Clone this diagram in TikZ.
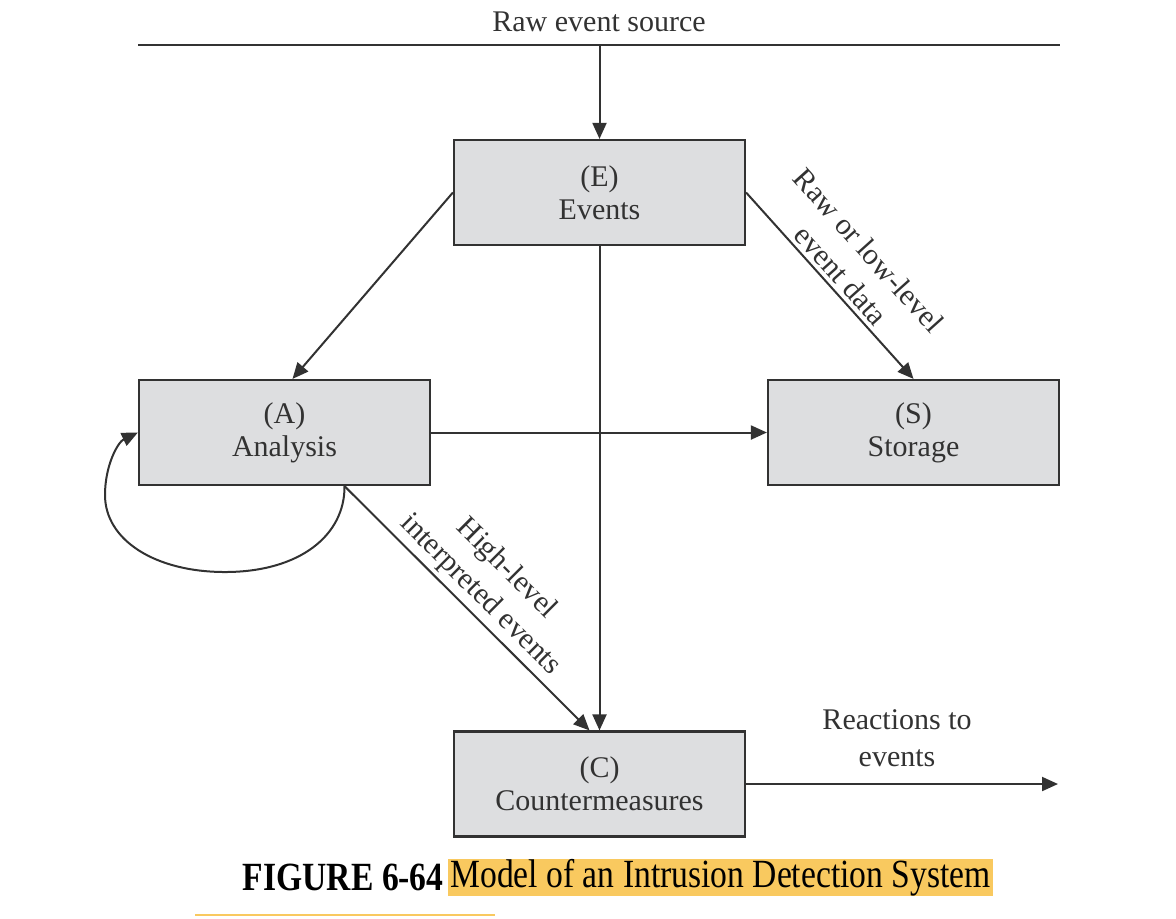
\documentclass[tikz,border=0pt]{standalone}
\usepackage{fontspec}
\setmainfont{Liberation Serif}
\newfontfamily\capfont[FakeStretch=0.84]{Liberation Serif}
\usetikzlibrary{arrows.meta,positioning}
\definecolor{boxfill}{RGB}{221,222,224}
\definecolor{inkgray}{RGB}{50,50,50}
\definecolor{marker}{RGB}{249,201,95}

\begin{document}
\begin{tikzpicture}[x=0.5pt,y=-0.5pt,
		every node/.style={text=inkgray,font=\fontsize{15}{16.5}\selectfont,align=center},
		block/.style={draw=inkgray,line width=1.1pt,fill=boxfill,minimum width=145.5pt,minimum height=52.5pt,inner sep=0pt},
		arr/.style={draw=inkgray,line width=1pt,-{Triangle[length=8pt,width=7pt]}},
		plain/.style={draw=inkgray,line width=1pt},
		flowtext/.style={font=\fontsize{15}{18.5}\selectfont}]
		\useasboundingbox (0,0) rectangle (1176,918);
		% source line
		\coordinate (srcL) at (138,45);
		\coordinate (srcR) at (1060,45);
		\coordinate (src) at (599.5,45);
		\draw[plain] (srcL) -- (srcR);
		\node (srclabel) at (599,22){Raw event source};
		% the four boxes
		\node[block] (events) at (599.5,192.5){(E)\\Events};
		\node[block] (analysis) at (284.5,432.5){(A)\\Analysis};
		\node[block] (storage) at (913.5,432.5){(S)\\Storage};
		\node[block] (counter) at (599.5,784){(C)\\Countermeasures};
		\coordinate (reactEnd) at (1058,784);
		% connectors
		\draw[arr] (src) -- (events.north);
		\draw[arr] (events.west) -- ([xshift=4pt]analysis.north);
		\draw[arr] (events.east) -- (storage.north)
			node[flowtext,midway,sloped,above,inner sep=2pt]{Raw or low-level\\event data};
		\draw[arr] (events.south) -- (counter.north);
		\draw[arr] (analysis.east) -- (storage.west);
		\draw[arr] ([xshift=30pt]analysis.south) -- ([xshift=-5pt]counter.north)
			node[flowtext,midway,sloped,above,inner sep=2pt]{High-level\\interpreted events};
		\draw[arr] ([xshift=30pt]analysis.south) .. controls (345,535) and (300,572) .. (225,572)
			.. controls (155,572) and (105,540) .. (105,495)
			.. controls (105,465) and (118,442) .. (analysis.west);
		\draw[arr] (counter.east) -- (reactEnd)
			node[flowtext,midway,above,inner sep=8pt,xshift=-2.5pt]{Reactions to\\events};
		% caption
		\node[fill=marker,anchor=west,inner xsep=1pt,inner ysep=0pt,minimum height=17.5pt,text=black,
			font=\capfont\fontsize{20}{22}\selectfont] (captext) at (448,877.5){Model of an Intrusion Detection System};
		\node[left=2pt of captext,text=black,inner sep=0pt,
			font=\capfont\bfseries\fontsize{20}{22}\selectfont] (figno){FIGURE 6-64};
		\coordinate (markL) at (195,915);
		\coordinate (markR) at (495,915);
		\draw[draw=marker,line width=1pt] (markL) -- (markR);
	\end{tikzpicture}
\end{document}
